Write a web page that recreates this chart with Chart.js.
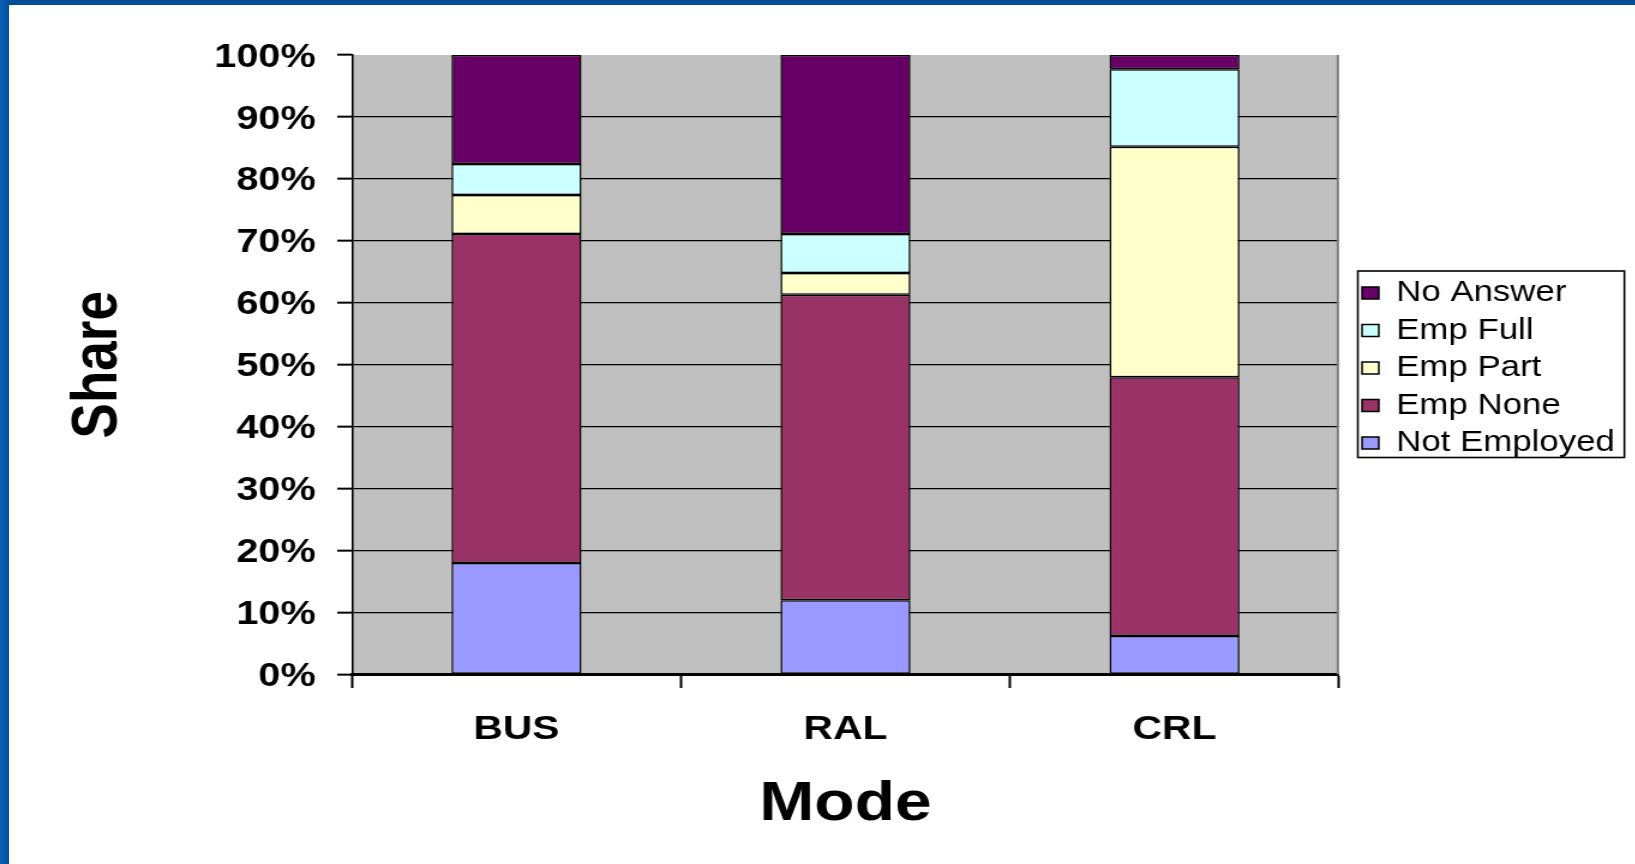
<!DOCTYPE html>
<html>
<head>
<meta charset="utf-8">
<script src="https://cdn.jsdelivr.net/npm/chart.js@4/dist/chart.umd.min.js"></script>
<style>
  html, body { margin: 0; padding: 0; background: #ffffff; overflow: hidden; width: 1635px; height: 864px; }
  #frameTop { position: absolute; left: 0; top: 0; width: 1635px; height: 5px; background: #004c97; z-index: 2; }
  #frameLeft { position: absolute; left: 0; top: 0; width: 9px; height: 864px; background: linear-gradient(to right, #0a60b6, #004d9b); z-index: 2; }
  #chart { position: absolute; left: 0; top: 0; transform: scaleX(1.2); transform-origin: 0 0; }
</style>
</head>
<body>
<div id="frameTop"></div>
<div id="frameLeft"></div>
<canvas id="chart" width="1363" height="864"></canvas>
<script>
// ---- data ----
const categories = ['BUS', 'RAL', 'CRL'];
const notEmployed = [18.0, 12.0, 6.2];
const empNone = [53.1, 49.3, 41.8];
const empPart = [6.3, 3.5, 37.2];
const empFull = [5.0, 6.3, 12.5];
const noAnswer = [17.6, 28.9, 2.3];
const seriesNames = ['Not Employed', 'Emp None', 'Emp Part', 'Emp Full', 'No Answer'];
const yTickLabels = ['0%', '10%', '20%', '30%', '40%', '50%', '60%', '70%', '80%', '90%', '100%'];
const xTitle = 'Mode';
const yTitle = 'Share';

// ---- layout (internal canvas units, canvas stretched 1.2x horizontally) ----
const CANVAS_W = 1363, CANVAS_H = 864;
const PLOT_LEFT = 293.3, PLOT_RIGHT = 1115.8, PLOT_TOP = 55, PLOT_BOTTOM = 674.5;
const LEG_FS = 29, LEG_PAD = 8.5, BOX_W = 14, BOX_H = 12;
const LEG_ITEM_LEFT = 1135, LEG_DY = 3.25;
const FONT = '"Liberation Sans", Arial, sans-serif';

const mctx = document.createElement('canvas').getContext('2d');
mctx.font = LEG_FS + 'px ' + FONT;
const maxTextW = Math.max(...seriesNames.map(s => mctx.measureText(s).width));
const legendW = LEG_PAD + BOX_W + LEG_FS / 2 + maxTextW + 10;
const padRight = CANVAS_W - PLOT_RIGHT - legendW;

const colors = ['#9999ff', '#993366', '#ffffcc', '#ccffff', '#660066'];
const values = [notEmployed, empNone, empPart, empFull, noAnswer];

const plotFrame = {
  id: 'plotFrame',
  beforeDraw(chart) {
    const {ctx, chartArea: a} = chart;
    ctx.save();
    ctx.fillStyle = '#c0c0c0';
    ctx.fillRect(a.left, a.top, a.right - a.left, a.bottom - a.top);
    ctx.restore();
  },
  afterDatasetsDraw(chart) {
    const {ctx, chartArea: a} = chart;
    ctx.save();
    ctx.strokeStyle = '#808080';
    ctx.lineWidth = 2;
    ctx.beginPath();
    ctx.moveTo(a.right - 1, a.top);
    ctx.lineTo(a.right - 1, a.bottom);
    ctx.stroke();
    ctx.restore();
  },
  afterLayout(chart) {
    const lg = chart.legend;
    const dx = (LEG_ITEM_LEFT - LEG_PAD) - lg.left;
    lg.left += dx; lg.right += dx;
    lg.top += LEG_DY; lg.bottom += LEG_DY;
  },
  afterDraw(chart) {
    const hb = chart.legend.legendHitBoxes;
    if (!hb || !hb.length) return;
    const l = Math.min(...hb.map(h => h.left)) - 3.5;
    const r = Math.max(...hb.map(h => h.left + h.width)) + 8;
    const t = Math.min(...hb.map(h => h.top)) - 7.5;
    const b = Math.max(...hb.map(h => h.top + h.height)) + 0;
    const ctx = chart.ctx;
    ctx.save();
    ctx.strokeStyle = '#000';
    ctx.lineWidth = 1.6;
    ctx.strokeRect(l, t, r - l, b - t);
    ctx.restore();
  }
};

new Chart(document.getElementById('chart'), {
  type: 'bar',
  data: {
    labels: categories,
    datasets: seriesNames.map((name, i) => ({
      label: name,
      data: values[i],
      backgroundColor: colors[i],
      borderColor: '#000',
      borderWidth: 1.5,
      borderSkipped: false,
      categoryPercentage: 1,
      barPercentage: 0.395
    }))
  },
  options: {
    responsive: false,
    animation: false,
    devicePixelRatio: 1,
    layout: { padding: { top: PLOT_TOP, left: 0, bottom: 0, right: padRight } },
    plugins: {
      tooltip: { enabled: false },
      legend: {
        position: 'right',
        fullSize: false,
        reverse: true,
        labels: {
          font: { family: FONT, size: LEG_FS },
          color: '#000',
          boxWidth: BOX_W,
          boxHeight: BOX_H,
          padding: LEG_PAD
        }
      }
    },
    scales: {
      x: {
        stacked: true,
        afterFit(scale) { scale.height = CANVAS_H - PLOT_BOTTOM; },
        grid: {
          display: true, offset: true, drawOnChartArea: false, drawTicks: true,
          tickLength: 13.5, tickWidth: 2, tickColor: '#000', color: '#000'
        },
        border: { display: true, color: '#000', width: 3 },
        ticks: {
          color: '#000', padding: 21.5,
          font: { family: FONT, size: 34, weight: 'bold' }
        },
        title: {
          display: true, text: xTitle, color: '#000',
          font: { family: FONT, size: 55, weight: 'bold', lineHeight: 1 },
          padding: { top: 0, bottom: 31.5 }
        }
      },
      y: {
        stacked: true,
        min: 0, max: 100,
        afterFit(scale) { scale.width = PLOT_LEFT; },
        grid: {
          color: (c) => (c.tick && c.tick.value === 100) ? 'rgba(0,0,0,0)' : '#000',
          lineWidth: 1.3,
          drawTicks: true, tickLength: 12.3, tickWidth: 2, tickColor: '#000'
        },
        border: { display: true, color: '#000', width: 1.6 },
        ticks: {
          stepSize: 10, color: '#000', padding: 18, labelOffset: 2.5,
          font: { family: FONT, size: 33, weight: 'bold' },
          callback: (v, i) => yTickLabels[i]
        },
        title: {
          display: true, text: yTitle, color: '#000',
          font: { family: FONT, size: 53, weight: 'bold', lineHeight: 1 },
          padding: { top: 56.2, bottom: 0 }
        }
      }
    }
  },
  plugins: [plotFrame]
});
</script>
</body>
</html>
